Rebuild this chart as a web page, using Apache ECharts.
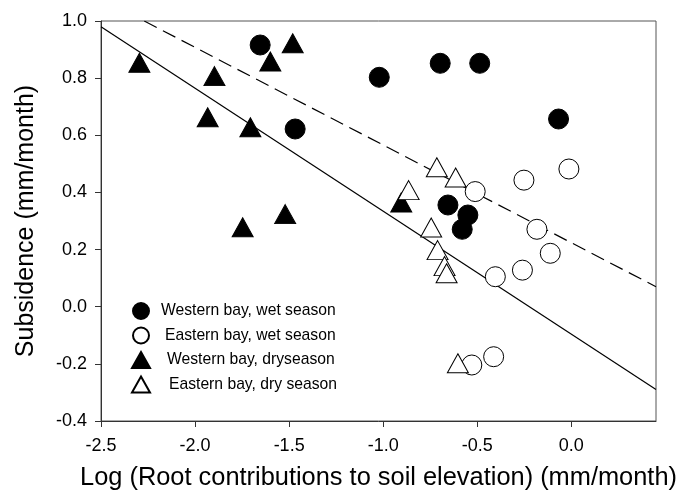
<!DOCTYPE html>
<html>
<head>
<meta charset="utf-8">
<script src="https://cdn.jsdelivr.net/npm/echarts@6/dist/echarts.min.js"></script>
<style>
html,body{margin:0;padding:0;background:#fff;}
#chart{width:691px;height:498px;}
</style>
</head>
<body>
<div id="chart"></div>
<script>
// ---- Data ----
const seriesNames = [
  'Western bay, wet season',
  'Eastern bay, wet season',
  'Western bay, dryseason',
  'Eastern bay, dry season'
];
const westernWet = [
  [-1.654, 0.916], [-1.468, 0.622], [-1.021, 0.803], [-0.697, 0.852],
  [-0.487, 0.852], [-0.068, 0.657], [-0.656, 0.356], [-0.550, 0.321],
  [-0.580, 0.271]
];
const easternWet = [
  [-0.013, 0.482], [-0.252, 0.443], [-0.511, 0.403], [-0.183, 0.271],
  [-0.112, 0.187], [-0.260, 0.128], [-0.404, 0.105], [-0.529, -0.204],
  [-0.413, -0.175]
];
const westernDry = [
  [-2.296, 0.854], [-1.897, 0.807], [-1.933, 0.663], [-1.481, 0.922],
  [-1.600, 0.858], [-1.706, 0.628], [-1.521, 0.324], [-1.747, 0.278],
  [-0.904, 0.365]
];
const easternDry = [
  [-0.715, 0.488], [-0.615, 0.452], [-0.865, 0.408], [-0.745, 0.277],
  [-0.711, 0.198], [-0.674, 0.142], [-0.663, 0.117], [-0.603, -0.198]
];
const solidLine = [[-2.5, 0.98], [0.45, -0.29]];
const dashedLine = [[-2.27, 1.0], [0.45, 0.07]];
const xTicks = [-2.5, -2.0, -1.5, -1.0, -0.5, 0.0];

const FONT = '"Liberation Sans", Arial, sans-serif';
const chart = echarts.init(document.getElementById('chart'), null, {renderer: 'canvas'});

function fmt(v) {
  if (Math.abs(v) < 1e-9) return '0.0';
  return v.toFixed(1);
}

const filled = {color: '#000', borderColor: '#000', borderWidth: 1, opacity: 1};
const open = {color: '#fff', borderColor: '#000', borderWidth: 1, opacity: 1};

chart.setOption({
  animation: false,
  backgroundColor: '#fff',
  grid: {left: 101, right: 35, top: 21, bottom: 77, show: true, borderColor: '#555', borderWidth: 1, backgroundColor: 'transparent'},
  xAxis: {
    type: 'value', min: -2.5, max: 0.45, interval: 0.5,
    name: 'Log (Root contributions to soil elevation) (mm/month)',
    nameLocation: 'middle', nameGap: 44,
    nameTextStyle: {fontFamily: FONT, fontSize: 25.4, color: '#000'},
    axisLine: {show: true, onZero: false, lineStyle: {color: '#333', width: 1}},
    axisTick: {show: true, inside: false, length: 6, customValues: xTicks, lineStyle: {color: '#333'}},
    axisLabel: {customValues: xTicks, formatter: fmt, margin: 16, fontFamily: FONT, fontSize: 18, color: '#000'},
    splitLine: {show: false}
  },
  yAxis: {
    type: 'value', min: -0.4, max: 1.0, interval: 0.2,
    name: 'Subsidence (mm/month)',
    nameLocation: 'middle', nameGap: 62,
    nameTextStyle: {fontFamily: FONT, fontSize: 25, color: '#000'},
    axisLine: {show: true, onZero: false, lineStyle: {color: '#333', width: 1}},
    axisTick: {show: true, inside: false, length: 6, lineStyle: {color: '#333'}},
    axisLabel: {formatter: fmt, margin: 14, fontFamily: FONT, fontSize: 18, color: '#000'},
    splitLine: {show: false}
  },
  legend: {
    orient: 'vertical', left: 131, top: 302, padding: 0, itemGap: 6.5, itemWidth: 18, itemHeight: 16,
    textStyle: {fontFamily: FONT, fontSize: 15.7, color: '#000'},
    data: [
      {name: seriesNames[0], textStyle: {padding: [0, 0, 0, 6]}},
      {name: seriesNames[1], textStyle: {padding: [0, 0, 0, 10]}},
      {name: seriesNames[2], textStyle: {padding: [0, 0, 0, 12]}},
      {name: seriesNames[3], textStyle: {padding: [0, 0, 0, 14]}}
    ]
  },
  series: [
    {type: 'line', data: solidLine, symbol: 'none', silent: true, clip: true,
     lineStyle: {color: '#000', width: 1.2, type: 'solid'}, z: 1},
    {type: 'line', data: dashedLine, symbol: 'none', silent: true, clip: true,
     lineStyle: {color: '#000', width: 1.2, type: [14, 7]}, z: 1},
    {name: seriesNames[0], type: 'scatter', data: westernWet, symbol: 'circle', symbolSize: 20, itemStyle: filled, z: 3},
    {name: seriesNames[1], type: 'scatter', data: easternWet, symbol: 'circle', symbolSize: 20, itemStyle: open, z: 3},
    {name: seriesNames[2], type: 'scatter', data: westernDry, symbol: 'triangle', symbolSize: [21, 19], itemStyle: filled, z: 3},
    {name: seriesNames[3], type: 'scatter', data: easternDry, symbol: 'triangle', symbolSize: [21, 19], itemStyle: open, z: 3}
  ]
});
</script>
</body>
</html>
